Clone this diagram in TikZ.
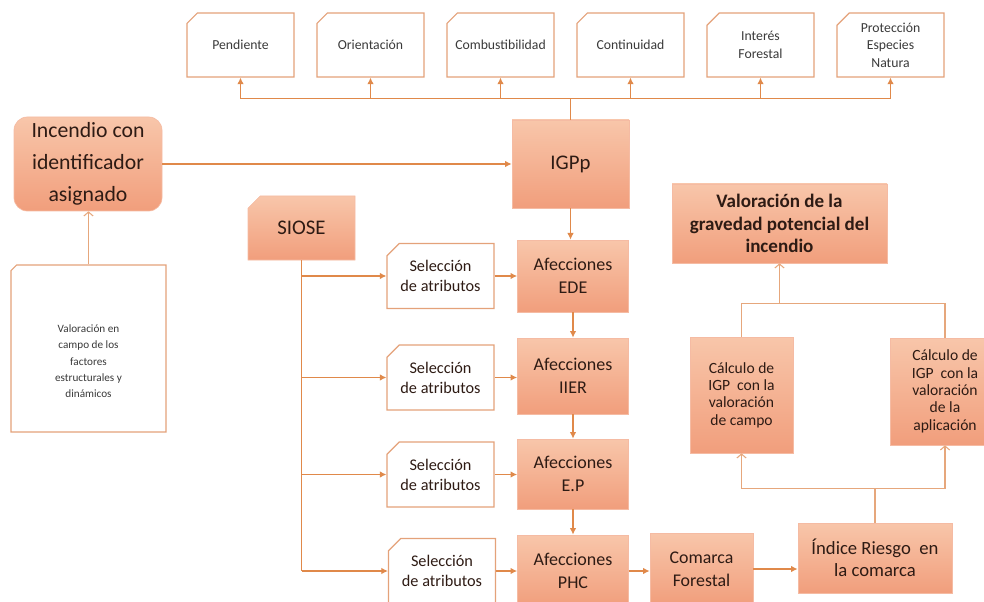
\documentclass[tikz,border=0pt]{standalone}
\usepackage{fontspec}
\setmainfont{Carlito}
\usetikzlibrary{arrows.meta,shapes.misc,calc}
\definecolor{conn}{HTML}{E0894A}
\definecolor{connlight}{HTML}{E6A77C}
\definecolor{boxline}{HTML}{E4A27A}
\definecolor{peachtop}{HTML}{F8C6AA}
\definecolor{peachbot}{HTML}{F19E7C}
\definecolor{ink}{HTML}{2E1B14}
\definecolor{graytext}{HTML}{3A3A3A}

\begin{document}
\begin{tikzpicture}[x=0.75pt,y=-0.75pt,
  every node/.style={align=center, inner sep=1pt},
  notebox/.style={chamfered rectangle, chamfered rectangle corners=north west,
    chamfered rectangle xsep=6pt},
  filled/.style={top color=peachtop, bottom color=peachbot,
    draw=peachbot!70!white, line width=0.5pt, text=ink},
  plain/.style={fill=white, draw=boxline, line width=0.8pt},
  topbox/.style={notebox, plain, text=graytext, minimum width=80.25pt,
    minimum height=48pt, font=\fontsize{10.3}{13}\selectfont},
  selbox/.style={notebox, plain, text=ink, minimum width=80.25pt,
    minimum height=48.75pt, font=\fontsize{12.2}{15}\selectfont},
  afbox/.style={filled, rectangle, minimum width=83.25pt,
    font=\fontsize{13.5}{17.5}\selectfont},
  calcbox/.style={filled, rectangle, font=\fontsize{11.7}{13}\selectfont},
  arr/.style={draw=conn, line width=1.1pt, -{Latex[length=5pt,width=5pt]}},
  lin/.style={draw=conn, line width=1.1pt},
  thinarr/.style={draw=connlight, line width=0.8pt,
    -{Straight Barb[length=3pt,width=7pt]}},
  thinlin/.style={draw=connlight, line width=0.8pt},
]
\clip (0,0) rectangle (984,602);

% factor boxes along the top
\node[topbox] (p1) at (240.5,45) {Pendiente};
\node[topbox] (p2) at (370.5,45) {Orientación};
\node[topbox] (p3) at (500.5,45) {Combustibilidad};
\node[topbox] (p4) at (630.5,45) {Continuidad};
\node[topbox] (p5) at (760.5,45) {Interés\\Forestal};
\node[topbox] (p6) at (890.5,45) {Protección\\Especies\\Natura};

% main chain
\node[filled, rectangle, minimum width=87.75pt, minimum height=66pt,
  font=\fontsize{15.6}{19}\selectfont] (igpp) at (570.5,164) {IGPp};
\node[filled, rectangle, rounded corners=10pt, minimum width=111pt,
  minimum height=70.5pt, font=\fontsize{16.3}{24}\selectfont] (inc) at (88,164)
  {Incendio con\\identificador\\asignado};
% field valuation note, its text sits in the lower part of the box
\node[notebox, plain, minimum width=116.25pt, minimum height=125.25pt,
  text=graytext, font=\fontsize{8.4}{12.2}\selectfont] (val) at (88.5,348.5)
  {\raisebox{-12pt}[0pt][0pt]{\begin{tabular}{@{}c@{}}Valoración en\\campo de los\\factores\\estructurales y\\dinámicos\end{tabular}}};

\node[notebox, filled, minimum width=80.25pt, minimum height=48pt,
  font=\fontsize{15.6}{19}\selectfont] (siose) at (301.5,228) {SIOSE};

\node[selbox] (sel1) at (440.5,276) {Selección\\de atributos};
\node[selbox] (sel2) at (440.5,377.5) {Selección\\de atributos};
\node[selbox] (sel3) at (440.5,474.5) {Selección\\de atributos};
\node[selbox] (sel4) at (442,571) {Selección\\de atributos};

\node[afbox, minimum height=54pt] (af1) at (573,276) {Afecciones\\EDE};
\node[afbox, minimum height=57pt] (af2) at (573,376) {Afecciones\\IIER};
\node[afbox, minimum height=52.5pt] (af3) at (573,474) {Afecciones\\E.P};
\node[afbox, minimum height=54pt] (af4) at (573,571) {Afecciones\\PHC};

\node[filled, rectangle, minimum width=77.25pt, minimum height=54pt,
  font=\fontsize{13.4}{17.5}\selectfont] (comarca) at (701.5,569) {Comarca\\Forestal};
\node[filled, rectangle, minimum width=115.5pt, minimum height=52.5pt,
  font=\fontsize{14}{16.5}\selectfont] (indice) at (875,558) {Índice Riesgo~ en\\la comarca};

\node[calcbox, minimum width=77.25pt, minimum height=87pt] (calc1) at (741.5,395)
  {Cálculo de\\IGP~ con la\\valoración\\de campo};
\node[calcbox, minimum width=82.5pt, minimum height=80.25pt] (calc2) at (945,391.5)
  {Cálculo de\\IGP~ con la\\valoración\\de la\\aplicación};

\node[filled, rectangle, minimum width=161.25pt, minimum height=59.25pt,
  font=\bfseries\fontsize{14.3}{17}\selectfont] (valg) at (779.5,223.5)
  {Valoración de la\\gravedad potencial del\\incendio};

% connectors: IGPp to the factor boxes
\coordinate (bus) at ($(igpp.north)+(0,-21)$);
\draw[lin] (igpp.north) -- (bus);
\draw[lin] (p1.south |- bus) -- (p6.south |- bus);
\foreach \n in {p1,p2,p3,p4,p5,p6}
  \draw[arr] (\n.south |- bus) -- (\n.south);

\draw[arr] (inc.east) -- (igpp.west);
\draw[thinarr] (val.north) -- (val.north |- inc.south);

% SIOSE branches
\draw[lin] (siose.south) -- (siose.south |- sel4.west);
\foreach \i in {1,2,3,4} {
  \draw[arr] (siose.south |- sel\i.west) -- (sel\i.west);
  \draw[arr] (sel\i.east) -- (sel\i.east -| af\i.west);
}

% vertical chain of the Afecciones
\draw[arr] (igpp.south) -- (igpp.south |- af1.north);
\draw[arr] (af1.south) -- (af2.north);
\draw[arr] (af2.south) -- (af3.north);
\draw[arr] (af3.south) -- (af4.north);

\draw[arr] (af4.east) -- (af4.east -| comarca.west);
\draw[arr] (comarca.east) -- (comarca.east -| indice.west);

% risk index to the two calculations
\coordinate (jb) at ($(indice.north)+(0,-34)$);
\draw[thinlin] (indice.north) -- (jb);
\draw[thinlin] (calc1.south |- jb) -- (calc2.south |- jb);
\draw[thinarr] (calc1.south |- jb) -- (calc1.south);
\draw[thinarr] (calc2.south |- jb) -- (calc2.south);

% calculations to the final valuation
\coordinate (jt) at ($(valg.south)+(0,40)$);
\draw[thinlin] (calc1.north) -- (calc1.north |- jt) -- (calc2.north |- jt) -- (calc2.north);
\draw[thinarr] (jt) -- (valg.south);
\end{tikzpicture}
\end{document}
